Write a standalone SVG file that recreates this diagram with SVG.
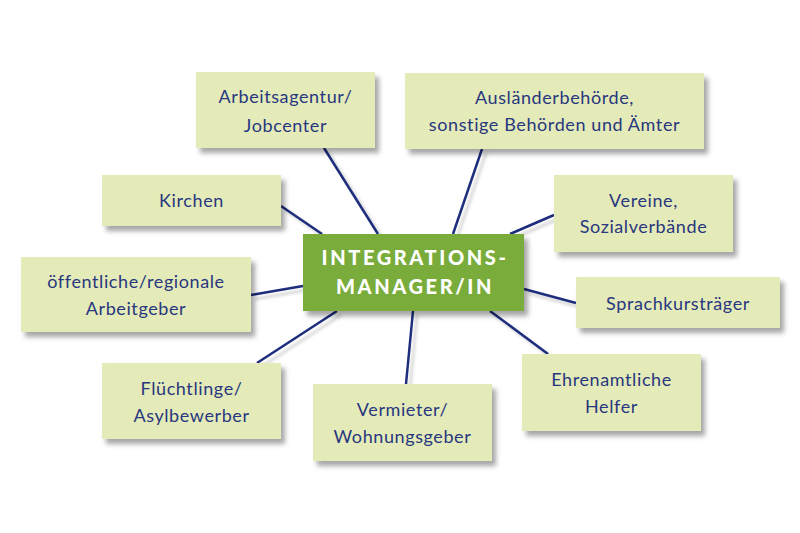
<svg xmlns="http://www.w3.org/2000/svg" width="800" height="533" viewBox="0 0 800 533">
<defs>
<filter id="sh" x="-10%" y="-20%" width="130%" height="160%">
<feDropShadow dx="4" dy="5" stdDeviation="2.5" flood-color="#000" flood-opacity="0.35"/>
</filter>
<filter id="lsh" x="-20%" y="-20%" width="140%" height="140%">
<feDropShadow dx="4" dy="4" stdDeviation="1.5" flood-color="#000" flood-opacity="0.18"/>
</filter>
<style>
.box{fill:#e4ebb8;filter:url(#sh)}
.lbl{font-family:Lato,"Noto Sans",sans-serif;font-size:18px;fill:#28377f;text-anchor:middle;letter-spacing:0.6px}
.ctr{fill:#7aac3a;filter:url(#sh)}
.ctxt{font-family:Lato,"Noto Sans",sans-serif;font-weight:900;font-size:20px;fill:#fff;text-anchor:middle;letter-spacing:2.6px}
.con line{stroke:#1f2d7c;stroke-width:2.5}
</style>
</defs>
<rect width="800" height="533" fill="#fff"/>
<g id="connectors" class="con" filter="url(#lsh)">
<line x1="324" y1="148" x2="378" y2="234"/>
<line x1="482" y1="149" x2="453" y2="234"/>
<line x1="554" y1="215" x2="510" y2="234"/>
<line x1="281" y1="206" x2="322" y2="234"/>
<line x1="251" y1="295" x2="303" y2="286"/>
<line x1="257" y1="363" x2="337" y2="311"/>
<line x1="413" y1="311" x2="406" y2="384"/>
<line x1="490" y1="311" x2="548" y2="354"/>
<line x1="524" y1="289" x2="576" y2="303"/>
</g>
<g id="center">
<rect class="ctr" x="303" y="234" width="221" height="77"/>
<text class="ctxt" x="415" y="265">INTEGRATIONS-</text>
<text class="ctxt" x="415" y="294">MANAGER/IN</text>
</g>
<g id="arbeitsagentur">
<rect class="box" x="196" y="72" width="179" height="76"/>
<text class="lbl" x="285.5" y="103">Arbeitsagentur/</text>
<text class="lbl" x="285.5" y="132">Jobcenter</text>
</g>
<g id="auslaenderbehoerde">
<rect class="box" x="405" y="73" width="299" height="76"/>
<text class="lbl" x="554.5" y="104">Ausländerbehörde,</text>
<text class="lbl" x="554.5" y="131">sonstige Behörden und Ämter</text>
</g>
<g id="kirchen">
<rect class="box" x="102" y="175" width="179" height="51"/>
<text class="lbl" x="191.5" y="207">Kirchen</text>
</g>
<g id="vereine">
<rect class="box" x="554" y="175" width="179" height="77"/>
<text class="lbl" x="643.5" y="207">Vereine,</text>
<text class="lbl" x="643.5" y="233">Sozialverbände</text>
</g>
<g id="arbeitgeber">
<rect class="box" x="21" y="257" width="230" height="75"/>
<text class="lbl" x="136" y="288">öffentliche/regionale</text>
<text class="lbl" x="136" y="315">Arbeitgeber</text>
</g>
<g id="sprachkurstraeger">
<rect class="box" x="576" y="277" width="204" height="51"/>
<text class="lbl" x="678" y="310">Sprachkursträger</text>
</g>
<g id="fluechtlinge">
<rect class="box" x="102" y="363" width="179" height="76"/>
<text class="lbl" x="191.5" y="395">Flüchtlinge/</text>
<text class="lbl" x="191.5" y="422">Asylbewerber</text>
</g>
<g id="ehrenamtliche">
<rect class="box" x="522" y="354" width="179" height="77"/>
<text class="lbl" x="611.5" y="386">Ehrenamtliche</text>
<text class="lbl" x="611.5" y="413">Helfer</text>
</g>
<g id="vermieter">
<rect class="box" x="313" y="384" width="179" height="77"/>
<text class="lbl" x="402.5" y="416">Vermieter/</text>
<text class="lbl" x="402.5" y="443">Wohnungsgeber</text>
</g>
</svg>
